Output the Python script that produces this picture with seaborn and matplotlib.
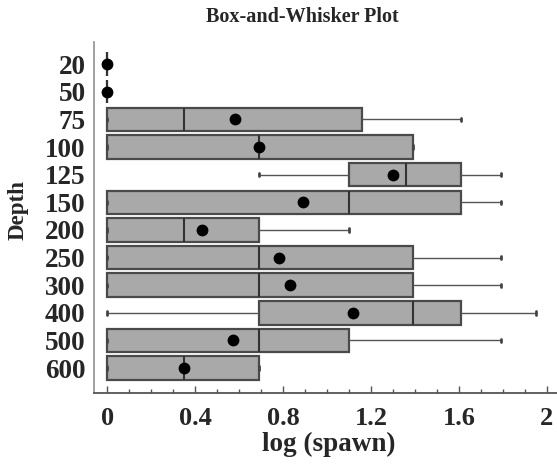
import numpy as np
import pandas as pd
import matplotlib
matplotlib.use("Agg")
import matplotlib.pyplot as plt
import seaborn as sns
from matplotlib.ticker import MultipleLocator

# ---- data ----
depths = ["20", "50", "75", "100", "125", "150", "200", "250", "300", "400", "500", "600"]
mins    = [0.00, 0.00, 0.00, 0.00, 0.69, 0.00, 0.00, 0.00, 0.00, 0.00, 0.00, 0.00]
q1s     = [0.00, 0.00, 0.00, 0.00, 1.10, 0.00, 0.00, 0.00, 0.00, 0.69, 0.00, 0.00]
medians = [0.00, 0.00, 0.35, 0.69, 1.36, 1.10, 0.35, 0.69, 0.69, 1.39, 0.69, 0.35]
q3s     = [0.00, 0.00, 1.16, 1.39, 1.61, 1.61, 0.69, 1.39, 1.39, 1.61, 1.10, 0.69]
maxs    = [0.00, 0.00, 1.61, 1.39, 1.79, 1.79, 1.10, 1.79, 1.79, 1.95, 1.79, 0.69]
means   = [0.00, 0.00, 0.58, 0.69, 1.30, 0.89, 0.43, 0.78, 0.83, 1.12, 0.57, 0.35]
xticks  = [0, 0.4, 0.8, 1.2, 1.6, 2]
xticklabels = ["0", "0.4", "0.8", "1.2", "1.6", "2"]

# five-number summaries as long-form data (5 points -> exact quartiles)
rows = []
for d, a, b, c, e, f in zip(depths, mins, q1s, medians, q3s, maxs):
    for v in (a, b, c, e, f):
        rows.append({"Depth": d, "value": v})
df = pd.DataFrame(rows)
df_mean = pd.DataFrame({"Depth": depths, "mean": means})

sns.set_theme(style="white")
plt.rcParams["font.family"] = ["Liberation Serif", "DejaVu Serif"]
plt.rcParams["font.weight"] = "bold"

fig = plt.figure(figsize=(5.57, 4.73), dpi=100)
ax = fig.add_axes([94 / 557, 80 / 473, 1 - 94 / 557, (393 - 42) / 473])

sns.boxplot(
    data=df, x="value", y="Depth", order=depths, orient="h",
    whis=np.inf, width=0.85, color="#a9a9a9", saturation=1,
    linecolor="#444444", linewidth=1.4, ax=ax,
    boxprops=dict(facecolor="#a9a9a9", edgecolor="#4a4a4a", linewidth=1.6),
    medianprops=dict(color="#333333", linewidth=1.5),
    whiskerprops=dict(color="#555555", linewidth=1.0),
    capprops=dict(color="#444444", linewidth=2.0),
    capwidths=0.12,
)
sns.stripplot(
    data=df_mean, x="mean", y="Depth", order=depths, orient="h",
    jitter=False, color="black", size=8.5, linewidth=0, ax=ax, zorder=5,
)

ax.set_xlim(-(107.3 - 94) / 219.8, (557 - 107.3) / 219.8)
ax.set_ylim(11.9, -0.8)

ax.set_xticks(xticks)
ax.set_xticklabels(xticklabels)
ax.xaxis.set_minor_locator(MultipleLocator(0.1))
ax.tick_params(axis="x", which="major", direction="in", length=5, width=1,
               color="#555555", labelsize=19, pad=10, bottom=True)
ax.tick_params(axis="x", which="minor", direction="in", length=3, width=1,
               color="#555555", bottom=True)
ax.tick_params(axis="y", which="both", length=0, labelsize=19.5, pad=6)
for lab in ax.get_xticklabels() + ax.get_yticklabels():
    lab.set_fontweight("bold")

for s in ("top", "right"):
    ax.spines[s].set_visible(False)
ax.spines["left"].set_color("#9a9a9a")
ax.spines["left"].set_linewidth(1.3)
ax.spines["bottom"].set_color("#555555")
ax.spines["bottom"].set_linewidth(1.3)

ax.set_xlabel("log (spawn)", fontsize=19.5, fontweight="bold")
ax.set_ylabel("Depth", fontsize=16.5, fontweight="bold")
ax.xaxis.set_label_coords((329 - 94) / 463, -(444 - 393) / 351)
ax.yaxis.set_label_coords(-(94 - 18) / 463, (393 - 210) / 351)
ax.xaxis.label.set_va("center")
ax.yaxis.label.set_va("center")
fig.text(302 / 557, 1 - 17 / 473, "Box-and-Whisker Plot", ha="center", va="center",
         fontsize=14.5, fontweight="bold")

fig.savefig("out.png", dpi=100)
